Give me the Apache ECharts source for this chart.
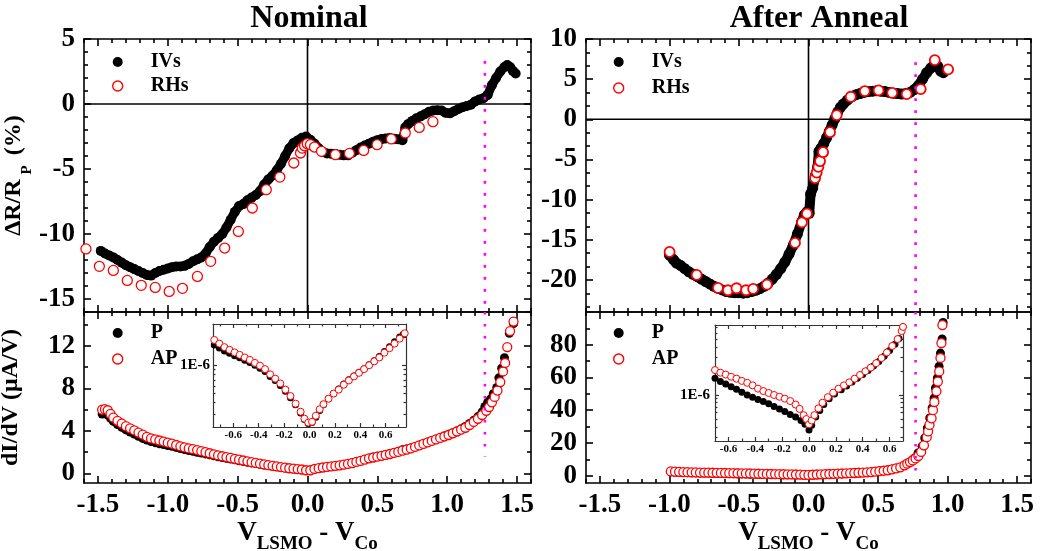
<!DOCTYPE html>
<html>
<head>
<meta charset="utf-8">
<script src="https://cdn.jsdelivr.net/npm/echarts@6/dist/echarts.min.js"></script>
<style>
  html, body { margin: 0; padding: 0; background: #fff; }
  #box { width: 1040px; height: 551px; }
</style>
</head>
<body>
<div id="box"></div>
<script>
// ---- data ----
// top left: Nominal, dR/R_P (%) vs V
var nomIVs = [[-1.48,-11.3],[-1.45,-11.5],[-1.42,-11.65],[-1.39,-11.8],[-1.36,-12.0],[-1.33,-12.2],[-1.3,-12.4],[-1.27,-12.55],[-1.24,-12.7],[-1.21,-12.85],[-1.18,-13.0],[-1.15,-13.15],[-1.12,-13.2],[-1.09,-13.0],[-1.06,-12.85],[-1.03,-12.75],[-1.0,-12.65],[-0.97,-12.55],[-0.94,-12.5],[-0.91,-12.5],[-0.88,-12.45],[-0.85,-12.3],[-0.82,-12.1],[-0.79,-11.95],[-0.76,-11.8],[-0.73,-11.5],[-0.7,-11.0],[-0.67,-10.6],[-0.64,-10.3],[-0.61,-10.0],[-0.58,-9.5],[-0.55,-8.9],[-0.52,-8.3],[-0.49,-7.85],[-0.46,-7.7],[-0.43,-7.4],[-0.4,-7.2],[-0.37,-7.0],[-0.34,-6.7],[-0.31,-6.2],[-0.28,-5.8],[-0.25,-5.5],[-0.22,-5.1],[-0.19,-4.6],[-0.16,-4.0],[-0.13,-3.4],[-0.1,-3.0],[-0.07,-2.8],[-0.04,-2.6],[-0.01,-2.5],[0.02,-2.75],[0.05,-3.05],[0.08,-3.4],[0.11,-3.7],[0.14,-3.8],[0.17,-3.82],[0.2,-3.85],[0.23,-3.9],[0.26,-3.95],[0.29,-3.95],[0.32,-3.75],[0.35,-3.55],[0.38,-3.35],[0.41,-3.2],[0.44,-3.05],[0.47,-2.9],[0.5,-2.78],[0.53,-2.7],[0.56,-2.65],[0.59,-2.62],[0.62,-2.68],[0.65,-2.72],[0.68,-2.78],[0.7,-1.8],[0.72,-1.55],[0.75,-1.3],[0.78,-1.1],[0.81,-0.95],[0.84,-0.78],[0.87,-0.6],[0.9,-0.5],[0.93,-0.48],[0.96,-0.5],[0.99,-0.68],[1.02,-0.72],[1.05,-0.55],[1.08,-0.38],[1.11,-0.25],[1.14,-0.15],[1.17,-0.05],[1.2,0.2],[1.23,0.35],[1.26,0.45],[1.29,0.7],[1.32,1.45],[1.35,2.0],[1.38,2.5],[1.41,2.85],[1.43,3.0],[1.45,2.85],[1.47,2.55],[1.49,2.35]];
var nomRHs = [[-1.586,-11.15],[-1.49,-12.49],[-1.39,-12.8],[-1.29,-13.57],[-1.19,-13.95],[-1.09,-14.11],[-0.99,-14.42],[-0.895,-14.18],[-0.788,-13.26],[-0.693,-12.1],[-0.593,-11.08],[-0.495,-9.8],[-0.395,-8.0],[-0.295,-6.59],[-0.198,-5.62],[-0.098,-4.54],[-0.05,-3.77],[-0.038,-3.39],[-0.021,-3.21],[-0.002,-3.05],[0.021,-3.13],[0.05,-3.31],[0.1,-3.64],[0.2,-3.9],[0.3,-3.8],[0.402,-3.57],[0.498,-3.13],[0.6,-2.69],[0.7,-2.23],[0.8,-1.8],[0.898,-1.36]];

// top right: After Anneal, dR/R_P (%) vs V
var annIVs = [[-1.0,-16.9],[-0.97,-17.5],[-0.95,-17.9],[-0.92,-18.2],[-0.89,-18.6],[-0.86,-19.0],[-0.83,-19.3],[-0.8,-19.6],[-0.77,-19.9],[-0.74,-20.2],[-0.71,-20.5],[-0.68,-20.8],[-0.65,-21.05],[-0.62,-21.25],[-0.59,-21.45],[-0.56,-21.55],[-0.53,-21.6],[-0.5,-21.6],[-0.47,-21.65],[-0.44,-21.6],[-0.41,-21.45],[-0.38,-21.3],[-0.35,-21.1],[-0.32,-20.8],[-0.29,-20.4],[-0.26,-19.9],[-0.23,-19.3],[-0.2,-18.6],[-0.17,-17.8],[-0.14,-16.8],[-0.11,-15.7],[-0.08,-14.3],[-0.05,-12.8],[-0.03,-11.9],[-0.01,-11.5],[0.005,-11.7],[0.015,-9.3],[0.03,-8.6],[0.05,-7.0],[0.065,-6.0],[0.075,-4.0],[0.09,-3.6],[0.11,-3.0],[0.13,-2.3],[0.15,-1.5],[0.17,-0.7],[0.19,0.1],[0.21,0.9],[0.23,1.5],[0.25,1.9],[0.28,2.4],[0.31,2.8],[0.34,3.05],[0.37,3.2],[0.4,3.35],[0.43,3.45],[0.46,3.5],[0.49,3.55],[0.52,3.5],[0.55,3.45],[0.58,3.35],[0.61,3.25],[0.64,3.2],[0.67,3.15],[0.7,3.2],[0.73,3.35],[0.76,3.7],[0.79,4.2],[0.82,5.0],[0.85,5.8],[0.88,6.4],[0.91,6.9],[0.93,6.6],[0.95,6.0],[0.97,5.8]];
var annRHs = [[-0.999,-16.52],[-0.804,-19.38],[-0.651,-21.0],[-0.579,-21.29],[-0.518,-21.04],[-0.449,-21.29],[-0.398,-21.12],[-0.299,-20.58],[-0.097,-15.4],[-0.047,-12.84],[-0.011,-11.76],[0.047,-7.33],[0.059,-6.63],[0.071,-5.93],[0.083,-5.22],[0.105,-4.1],[0.155,-1.61],[0.203,0.53],[0.304,2.81],[0.405,3.52],[0.504,3.6],[0.602,3.3],[0.706,3.14],[0.807,3.76],[0.908,7.37],[1.004,6.21]];

// bottom left: Nominal, dI/dV (uA/V)
var nomP = [[-1.47,5.6],[-1.45,5.7],[-1.43,5.5],[-1.41,5.2],[-1.39,4.9],[-1.36,4.6],[-1.33,4.35],[-1.3,4.1],[-1.27,3.9],[-1.24,3.7],[-1.21,3.5],[-1.18,3.3],[-1.15,3.15],[-1.12,3.0],[-1.09,2.9],[-1.06,2.8],[-1.03,2.72],[-1.0,2.63],[-0.97,2.55],[-0.94,2.45],[-0.91,2.35],[-0.88,2.25],[-0.85,2.16],[-0.82,2.08],[-0.79,2.0],[-0.76,1.92],[-0.73,1.84],[-0.7,1.75],[-0.67,1.66],[-0.64,1.57],[-0.61,1.5],[-0.58,1.42],[-0.55,1.35],[-0.52,1.28],[-0.49,1.2],[-0.46,1.13],[-0.43,1.06],[-0.4,0.99],[-0.37,0.93],[-0.34,0.86],[-0.31,0.8],[-0.28,0.74],[-0.25,0.68],[-0.22,0.62],[-0.19,0.57],[-0.16,0.51],[-0.13,0.46],[-0.1,0.42],[-0.07,0.38],[-0.04,0.34],[-0.01,0.28],[0.02,0.28],[0.05,0.4],[0.08,0.48],[0.11,0.55],[0.14,0.6],[0.17,0.66],[0.2,0.71],[0.23,0.77],[0.26,0.84],[0.29,0.92],[0.32,1.0],[0.35,1.1],[0.38,1.2],[0.41,1.32],[0.44,1.44],[0.47,1.53],[0.5,1.61],[0.53,1.7],[0.56,1.78],[0.59,1.87],[0.62,1.98],[0.65,2.1],[0.68,2.22],[0.71,2.3],[0.74,2.4],[0.77,2.52],[0.8,2.66],[0.83,2.8],[0.86,2.94],[0.89,3.08],[0.92,3.22],[0.95,3.36],[0.98,3.52],[1.01,3.68],[1.04,3.84],[1.07,4.0],[1.1,4.2],[1.13,4.42],[1.16,4.7],[1.19,5.0],[1.22,5.35],[1.25,5.8],[1.27,6.3],[1.29,6.7],[1.31,7.0],[1.33,7.5],[1.355,8.1],[1.37,9.0],[1.39,9.9],[1.41,10.9],[1.445,13.2],[1.475,14.1]];
var nomAP = [[-1.47,6.0],[-1.45,6.05],[-1.43,5.95],[-1.41,5.6],[-1.39,5.25],[-1.36,4.95],[-1.33,4.7],[-1.3,4.45],[-1.27,4.25],[-1.24,4.05],[-1.21,3.85],[-1.18,3.65],[-1.15,3.45],[-1.12,3.3],[-1.09,3.2],[-1.06,3.1],[-1.03,3.0],[-1.0,2.9],[-0.97,2.8],[-0.94,2.68],[-0.91,2.55],[-0.88,2.45],[-0.85,2.36],[-0.82,2.28],[-0.79,2.2],[-0.76,2.1],[-0.73,2.0],[-0.7,1.9],[-0.67,1.8],[-0.64,1.7],[-0.61,1.62],[-0.58,1.54],[-0.55,1.46],[-0.52,1.38],[-0.49,1.3],[-0.46,1.22],[-0.43,1.14],[-0.4,1.06],[-0.37,0.99],[-0.34,0.92],[-0.31,0.85],[-0.28,0.78],[-0.25,0.72],[-0.22,0.66],[-0.19,0.6],[-0.16,0.54],[-0.13,0.49],[-0.1,0.45],[-0.07,0.41],[-0.04,0.37],[-0.01,0.3],[0.02,0.3],[0.05,0.42],[0.08,0.5],[0.11,0.56],[0.14,0.61],[0.17,0.66],[0.2,0.71],[0.23,0.76],[0.26,0.83],[0.29,0.9],[0.32,0.98],[0.35,1.08],[0.38,1.18],[0.41,1.3],[0.44,1.42],[0.47,1.5],[0.5,1.58],[0.53,1.66],[0.56,1.74],[0.59,1.83],[0.62,1.93],[0.65,2.03],[0.68,2.14],[0.71,2.24],[0.74,2.36],[0.77,2.5],[0.8,2.64],[0.83,2.78],[0.86,2.92],[0.89,3.06],[0.92,3.2],[0.95,3.34],[0.98,3.48],[1.01,3.62],[1.04,3.78],[1.07,3.95],[1.1,4.12],[1.13,4.3],[1.16,4.55],[1.19,4.85],[1.22,5.15],[1.25,5.5],[1.28,5.9],[1.3,6.25],[1.32,6.7],[1.34,7.2],[1.36,7.8],[1.38,8.6],[1.4,9.6],[1.415,10.4],[1.43,11.9],[1.45,13.4],[1.475,14.3]];

// bottom right: After Anneal, dI/dV (uA/V)
var annP = [[-0.99,2.3],[-0.96,2.1],[-0.93,2.0],[-0.9,1.9],[-0.87,1.8],[-0.84,1.72],[-0.81,1.66],[-0.78,1.6],[-0.75,1.55],[-0.72,1.5],[-0.69,1.45],[-0.66,1.38],[-0.63,1.32],[-0.6,1.27],[-0.57,1.22],[-0.54,1.16],[-0.51,1.1],[-0.48,1.04],[-0.45,0.98],[-0.42,0.92],[-0.39,0.88],[-0.36,0.84],[-0.33,0.8],[-0.3,0.76],[-0.27,0.72],[-0.24,0.68],[-0.21,0.64],[-0.18,0.6],[-0.15,0.57],[-0.12,0.53],[-0.09,0.5],[-0.06,0.47],[-0.03,0.42],[0.0,0.36],[0.03,0.45],[0.06,0.58],[0.09,0.7],[0.12,0.8],[0.15,0.92],[0.18,1.02],[0.21,1.1],[0.24,1.2],[0.27,1.35],[0.3,1.5],[0.33,1.62],[0.36,1.7],[0.39,1.8],[0.42,2.0],[0.45,2.2],[0.48,2.5],[0.51,2.8],[0.54,3.0],[0.57,3.4],[0.6,3.9],[0.63,4.5],[0.66,5.0],[0.69,6.2],[0.71,7.4],[0.73,8.4],[0.75,9.8],[0.763,10.8],[0.788,13.9],[0.817,17.9],[0.836,23.0],[0.855,29.1],[0.872,35.2],[0.889,41.3],[0.903,47.4],[0.913,53.6],[0.927,59.7],[0.939,66.8],[0.949,74.9],[0.961,83.5],[0.968,93.6]];
var annAP = [[-0.99,2.6],[-0.96,2.4],[-0.93,2.3],[-0.9,2.2],[-0.87,2.1],[-0.84,2.0],[-0.81,1.95],[-0.78,1.9],[-0.75,1.85],[-0.72,1.8],[-0.69,1.75],[-0.66,1.7],[-0.63,1.65],[-0.6,1.6],[-0.57,1.55],[-0.54,1.5],[-0.51,1.45],[-0.48,1.4],[-0.45,1.35],[-0.42,1.3],[-0.39,1.2],[-0.36,1.15],[-0.33,1.1],[-0.3,1.05],[-0.27,1.0],[-0.24,0.95],[-0.21,0.9],[-0.18,0.85],[-0.15,0.8],[-0.12,0.75],[-0.09,0.7],[-0.06,0.62],[-0.03,0.5],[0.0,0.42],[0.03,0.55],[0.06,0.7],[0.09,0.8],[0.12,0.9],[0.15,1.0],[0.18,1.1],[0.21,1.2],[0.24,1.3],[0.27,1.4],[0.3,1.5],[0.33,1.6],[0.36,1.75],[0.39,1.9],[0.42,2.0],[0.45,2.2],[0.48,2.45],[0.51,2.7],[0.54,3.0],[0.57,3.3],[0.6,3.8],[0.63,4.4],[0.66,5.1],[0.69,6.3],[0.71,7.3],[0.73,8.3],[0.75,9.3],[0.77,10.5],[0.79,12.0],[0.81,14.5],[0.83,18.5],[0.85,23.5],[0.86,27.0],[0.87,31.0],[0.885,35.0],[0.895,40.0],[0.905,45.0],[0.92,51.5],[0.93,57.5],[0.94,63.7],[0.949,71.9],[0.956,81.0],[0.963,92.0]];

// insets: dI/dV (A/V), log scale
var nomInP = [[-0.75,1.64e-6],[-0.71,1.53e-6],[-0.67,1.42e-6],[-0.63,1.34e-6],[-0.59,1.26e-6],[-0.55,1.2e-6],[-0.51,1.13e-6],[-0.47,1.07e-6],[-0.43,1.0e-6],[-0.39,0.93e-6],[-0.35,0.86e-6],[-0.31,0.76e-6],[-0.27,0.69e-6],[-0.23,0.61e-6],[-0.19,0.53e-6],[-0.15,0.45e-6],[-0.11,0.38e-6],[-0.07,0.31e-6],[-0.04,0.265e-6],[-0.01,0.24e-6],[0.02,0.245e-6],[0.05,0.28e-6],[0.08,0.33e-6],[0.11,0.38e-6],[0.15,0.44e-6],[0.19,0.5e-6],[0.23,0.56e-6],[0.27,0.63e-6],[0.31,0.7e-6],[0.35,0.77e-6],[0.39,0.84e-6],[0.43,0.92e-6],[0.47,1.01e-6],[0.51,1.12e-6],[0.55,1.24e-6],[0.59,1.4e-6],[0.63,1.57e-6],[0.67,1.78e-6],[0.71,2.0e-6],[0.74,2.15e-6]];
var nomInAP = [[-0.75,1.86e-6],[-0.71,1.7e-6],[-0.67,1.56e-6],[-0.63,1.46e-6],[-0.59,1.37e-6],[-0.55,1.29e-6],[-0.51,1.21e-6],[-0.47,1.14e-6],[-0.43,1.06e-6],[-0.39,0.99e-6],[-0.35,0.91e-6],[-0.31,0.8e-6],[-0.27,0.72e-6],[-0.23,0.64e-6],[-0.19,0.55e-6],[-0.15,0.47e-6],[-0.11,0.39e-6],[-0.07,0.32e-6],[-0.04,0.27e-6],[-0.01,0.245e-6],[0.02,0.25e-6],[0.05,0.29e-6],[0.08,0.34e-6],[0.11,0.385e-6],[0.15,0.44e-6],[0.19,0.5e-6],[0.23,0.55e-6],[0.27,0.62e-6],[0.31,0.69e-6],[0.35,0.76e-6],[0.39,0.83e-6],[0.43,0.91e-6],[0.47,1.0e-6],[0.51,1.1e-6],[0.55,1.21e-6],[0.59,1.36e-6],[0.63,1.52e-6],[0.67,1.7e-6],[0.71,1.92e-6],[0.75,2.19e-6]];
var annInP = [[-0.7,1.62e-6],[-0.66,1.48e-6],[-0.62,1.37e-6],[-0.58,1.27e-6],[-0.54,1.18e-6],[-0.5,1.08e-6],[-0.46,1.0e-6],[-0.42,0.94e-6],[-0.38,0.88e-6],[-0.34,0.83e-6],[-0.3,0.78e-6],[-0.26,0.72e-6],[-0.22,0.67e-6],[-0.18,0.62e-6],[-0.14,0.57e-6],[-0.1,0.53e-6],[-0.06,0.48e-6],[-0.03,0.43e-6],[0.0,0.365e-6],[0.02,0.42e-6],[0.05,0.53e-6],[0.08,0.64e-6],[0.11,0.76e-6],[0.15,0.9e-6],[0.19,1.03e-6],[0.24,1.16e-6],[0.28,1.3e-6],[0.32,1.45e-6],[0.36,1.62e-6],[0.4,1.8e-6],[0.44,2.02e-6],[0.48,2.3e-6],[0.52,2.62e-6],[0.56,3.05e-6],[0.6,3.6e-6],[0.64,4.3e-6],[0.67,5.1e-6],[0.7,7.1e-6]];
var annInAP = [[-0.7,2.05e-6],[-0.66,1.9e-6],[-0.62,1.8e-6],[-0.58,1.69e-6],[-0.54,1.6e-6],[-0.5,1.5e-6],[-0.46,1.42e-6],[-0.42,1.32e-6],[-0.38,1.2e-6],[-0.34,1.12e-6],[-0.3,1.06e-6],[-0.26,1.0e-6],[-0.22,0.95e-6],[-0.18,0.9e-6],[-0.14,0.84e-6],[-0.1,0.76e-6],[-0.07,0.67e-6],[-0.04,0.56e-6],[-0.02,0.5e-6],[0.0,0.43e-6],[0.02,0.48e-6],[0.04,0.56e-6],[0.07,0.68e-6],[0.1,0.8e-6],[0.14,0.94e-6],[0.18,1.07e-6],[0.22,1.2e-6],[0.26,1.32e-6],[0.3,1.44e-6],[0.34,1.6e-6],[0.38,1.78e-6],[0.42,1.98e-6],[0.46,2.2e-6],[0.5,2.5e-6],[0.54,2.9e-6],[0.58,3.4e-6],[0.62,4.1e-6],[0.66,5.0e-6],[0.69,6.3e-6],[0.7,7.1e-6]];

// tick labels
var vTicks = [-1.5, -1.0, -0.5, 0.0, 0.5, 1.0, 1.5];
var nomRTicks = [-15, -10, -5, 0, 5];
var annRTicks = [-20, -15, -10, -5, 0, 5, 10];
var nomGTicks = [0, 4, 8, 12];
var annGTicks = [0, 20, 40, 60, 80];
var insetVTicks = [-0.6, -0.4, -0.2, 0.0, 0.2, 0.4, 0.6];
var insetLogTicks = [1e-6];
// dotted marker positions (V)
var nomMark = 1.27, annMark = 0.77;

// ---- chart ----
var FONT = 'Liberation Serif';
var dom = document.getElementById('box');
var myChart = echarts.init(dom);

function steps(a, b, s, skip) {
  var out = [];
  for (var v = a; v <= b + 1e-9; v += s) {
    var r = Math.round(v * 1000) / 1000;
    if (!skip || skip.every(function (m) { return Math.abs(m - r) > 1e-6; })) out.push(r);
  }
  return out;
}

var grids = [
  {left: 84, top: 39, width: 447, height: 273},
  {left: 84, top: 312, width: 447, height: 171},
  {left: 586, top: 39, width: 445, height: 273},
  {left: 586, top: 312, width: 445, height: 171},
  {left: 213, top: 324, width: 193, height: 103},
  {left: 715, top: 325, width: 188, height: 116}
].map(function (g) {
  g.containLabel = false; g.outerBoundsMode = 'none'; g.show = false;
  return g;
});

var xAxes = [], yAxes = [];
var MAIN = {color: '#000', lw: 1.6, bigLen: 7, smallLen: 4, fontSize: 27, margin: 9};
var INSET = {color: '#333', lw: 1.2, bigLen: 4, smallLen: 2.5, fontSize: 11, margin: 3};

function addAxes(list, grid, dim, o, st) {
  var sides = dim === 'x' ? ['bottom', 'top'] : ['left', 'right'];
  var mainIndex = list.length;
  sides.forEach(function (pos, k) {
    var first = k === 0;
    list.push({
      gridIndex: grid, type: o.type || 'value', position: pos,
      min: o.min, max: o.max, logBase: 10,
      name: first && o.name ? o.name : '', nameLocation: 'middle', nameGap: o.nameGap,
      nameRotate: o.nameRotate, nameTextStyle: o.nameStyle,
      axisLine: {show: true, onZero: false, lineStyle: {color: st.color, width: st.lw}},
      splitLine: {show: false},
      axisTick: {show: true, inside: true, length: st.bigLen, customValues: o.major,
        lineStyle: {color: st.color, width: st.lw}},
      axisLabel: {show: first && !!o.fmt, customValues: o.major, formatter: o.fmt,
        margin: o.margin || st.margin, color: '#000', fontFamily: FONT, fontWeight: 'bold',
        fontSize: o.fontSize || st.fontSize}
    });
    list.push({
      gridIndex: grid, type: o.type || 'value', position: pos,
      min: o.min, max: o.max, logBase: 10,
      axisLine: {show: false, onZero: false}, splitLine: {show: false},
      axisTick: {show: true, inside: true, length: st.smallLen, customValues: o.minor,
        lineStyle: {color: st.color, width: st.lw}},
      axisLabel: {show: false}
    });
  });
  return mainIndex;
}

function fmt1(v) { return (+v).toFixed(1); }
function fmtInt(v) { return String(Math.round(v)); }

var subRich = {
  m: {fontFamily: FONT, fontWeight: 'bold', fontSize: 24, color: '#000', padding: [0, 0, 9, 0], verticalAlign: 'bottom'},
  s: {fontFamily: FONT, fontWeight: 'bold', fontSize: 15, color: '#000', padding: [0, 4, 0, 5], verticalAlign: 'bottom'}
};
var xRich = {
  m: {fontFamily: FONT, fontWeight: 'bold', fontSize: 27, color: '#000', padding: [0, 0, 7, 0], verticalAlign: 'bottom'},
  s: {fontFamily: FONT, fontWeight: 'bold', fontSize: 19, color: '#000', verticalAlign: 'bottom'}
};
var xName = '{m|V}{s|LSMO}{m| - V}{s|Co}';
var vMinor = steps(-1.6, 1.6, 0.1, vTicks);

// grid 0: nominal dR/R
var x0 = addAxes(xAxes, 0, 'x', {min: -1.6, max: 1.6, major: vTicks, minor: vMinor}, MAIN);
var y0 = addAxes(yAxes, 0, 'y', {min: -16, max: 5, major: nomRTicks, minor: steps(-16, 5, 1, nomRTicks), fmt: fmtInt,
  name: '{m|\u0394R/R}{s|P}{m| (%)}', nameGap: 47, nameRotate: 90, nameStyle: {rich: subRich}}, MAIN);
// grid 1: nominal dI/dV
var x1 = addAxes(xAxes, 1, 'x', {min: -1.6, max: 1.6, major: vTicks, minor: vMinor, fmt: fmt1,
  name: xName, nameGap: 31, nameStyle: {rich: xRich}}, MAIN);
var y1 = addAxes(yAxes, 1, 'y', {min: -0.9, max: 15.2, major: nomGTicks, minor: [2, 6, 10, 14], fmt: fmtInt,
  name: '{m|dI/dV (\u03bcA/V)}', nameGap: 52, nameRotate: 90, nameStyle: {rich: subRich}}, MAIN);
// grid 2: annealed dR/R
var x2 = addAxes(xAxes, 2, 'x', {min: -1.6, max: 1.6, major: vTicks, minor: vMinor}, MAIN);
var annRMinor = [];
annRTicks.concat([-25]).forEach(function (t) { annRMinor.push(t + 5 / 3, t + 10 / 3); });
var y2 = addAxes(yAxes, 2, 'y', {min: -24, max: 10, major: annRTicks, minor: annRMinor, fmt: fmtInt}, MAIN);
// grid 3: annealed dI/dV
var x3 = addAxes(xAxes, 3, 'x', {min: -1.6, max: 1.6, major: vTicks, minor: vMinor, fmt: fmt1,
  name: xName, nameGap: 31, nameStyle: {rich: xRich}}, MAIN);
var y3 = addAxes(yAxes, 3, 'y', {min: -4.5, max: 100, major: annGTicks, minor: [10, 30, 50, 70, 90], fmt: fmtInt}, MAIN);
// grid 4, 5: insets
var logMinor = [3e-7, 4e-7, 5e-7, 6e-7, 7e-7, 8e-7, 9e-7, 2e-6, 3e-6, 4e-6, 5e-6, 6e-6, 7e-6];
var x4 = addAxes(xAxes, 4, 'x', {min: -0.76, max: 0.76, major: insetVTicks, minor: [-0.7, -0.5, -0.3, -0.1, 0.1, 0.3, 0.5, 0.7], fmt: fmt1}, INSET);
var y4 = addAxes(yAxes, 4, 'y', {type: 'log', min: 2.2e-7, max: 2.75e-6, major: insetLogTicks, minor: logMinor,
  fmt: function () { return '1E-6'; }, fontSize: 15, margin: 3}, INSET);
var x5 = addAxes(xAxes, 5, 'x', {min: -0.7, max: 0.7, major: insetVTicks, minor: [-0.5, -0.3, -0.1, 0.1, 0.3, 0.5], fmt: fmt1}, INSET);
var y5 = addAxes(yAxes, 5, 'y', {type: 'log', min: 2.66e-7, max: 7.5e-6, major: insetLogTicks, minor: logMinor,
  fmt: function () { return '1E-6'; }, fontSize: 15, margin: 5}, INSET);

function dots(name, data, xi, yi, size) {
  return {name: name, type: 'scatter', xAxisIndex: xi, yAxisIndex: yi, data: data,
    symbol: 'circle', symbolSize: size, itemStyle: {color: '#000', opacity: 1}, z: 3};
}
function rings(name, data, xi, yi, size, bw) {
  return {name: name, type: 'scatter', xAxisIndex: xi, yAxisIndex: yi, data: data,
    symbol: 'circle', symbolSize: size, itemStyle: {color: '#fff', borderColor: '#ff0000', borderWidth: bw, opacity: 1}, z: 4};
}
function thick(name, data, xi, yi, w) {
  return {name: name, type: 'line', xAxisIndex: xi, yAxisIndex: yi, data: data,
    symbol: 'circle', symbolSize: w + 1, showSymbol: true, showAllSymbol: true,
    itemStyle: {color: '#000'}, lineStyle: {color: '#000', width: w, cap: 'round', join: 'round'}, z: 3};
}
function rule(data, xi, yi) {
  return {type: 'line', xAxisIndex: xi, yAxisIndex: yi, data: data, symbol: 'none', silent: true,
    lineStyle: {color: '#000', width: 1.6}, z: 2};
}
function dotted(data, xi, yi) {
  return {type: 'line', xAxisIndex: xi, yAxisIndex: yi, data: data, symbol: 'none', silent: true,
    lineStyle: {color: '#ff00ff', width: 2.6, type: [2.6, 9.4]}, z: 5};
}

var series = [
  rule([[-1.6, 0], [1.6, 0]], x0, y0),
  rule([[0, -16], [0, 5]], x0, y0),
  rule([[-1.6, 0], [1.6, 0]], x2, y2),
  rule([[0, -24], [0, 10]], x2, y2),
  thick('IVs', nomIVs, x0, y0, 9),
  rings('RHs', nomRHs, x0, y0, 10, 1.3),
  thick('IVs', annIVs, x2, y2, 10),
  rings('RHs', annRHs, x2, y2, 10, 1.8),
  dots('P', nomP, x1, y1, 9),
  rings('AP', nomAP, x1, y1, 9, 1.3),
  dots('P', annP, x3, y3, 9),
  rings('AP', annAP, x3, y3, 9, 1.3),
  dots('P', nomInP, x4, y4, 7),
  rings('AP', nomInAP, x4, y4, 7, 1),
  dots('P', annInP, x5, y5, 7),
  rings('AP', annInAP, x5, y5, 7, 1),
  dotted([[nomMark, 3.3], [nomMark, -16]], x0, y0),
  dotted([[nomMark, 15.2], [nomMark, 1.6]], x1, y1),
  dotted([[annMark, 7.1], [annMark, -24]], x2, y2),
  dotted([[annMark, 100], [annMark, -2.4]], x3, y3)
];

function legendAt(left, top, gap, filled, open) {
  return {
    left: left, top: top, orient: 'vertical', padding: 0, itemGap: gap,
    itemWidth: 48, itemHeight: 10, selectedMode: false,
    textStyle: {fontFamily: FONT, fontWeight: 'bold', fontSize: 20, color: '#000', lineHeight: 20,
      padding: [0, 0, 0, 4]},
    data: [
      {name: filled, icon: 'circle', itemStyle: {color: '#000', borderWidth: 0}},
      {name: open, icon: 'circle', itemStyle: {color: '#fff', borderColor: '#ff0000', borderWidth: 1.4}}
    ]
  };
}

function title(text, x) {
  return {type: 'text', x: x, y: 3, z: 10,
    style: {text: text, font: 'bold 32px "Liberation Serif"', fill: '#000',
      textAlign: 'center', textVerticalAlign: 'top', verticalAlign: 'top'}};
}

var option = {
  animation: false,
  backgroundColor: '#fff',
  textStyle: {fontFamily: FONT},
  grid: grids,
  xAxis: xAxes,
  yAxis: yAxes,
  legend: [
    legendAt(112, 52, 4, 'IVs', 'RHs'),
    legendAt(112, 323, 6, 'P', 'AP'),
    legendAt(613, 52, 6, 'IVs', 'RHs'),
    legendAt(613, 323, 6, 'P', 'AP')
  ],
  graphic: [title('Nominal', 309), title('After Anneal', 819)],
  series: series
};

if (option && typeof option === 'object') {
  myChart.setOption(option);
}
</script>
</body>
</html>
